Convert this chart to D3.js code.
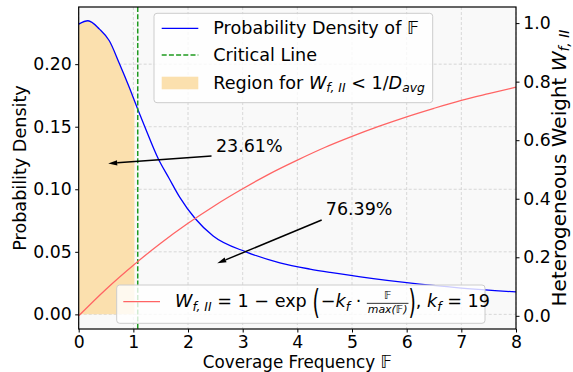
<!DOCTYPE html>
<html><head><meta charset="utf-8">
<script src="https://cdn.jsdelivr.net/npm/d3@7"></script>
<style>
body{margin:0;background:#fff}
text{font-family:"DejaVu Sans";white-space:pre}
</style>
</head><body>
<svg id="c" width="573" height="372"></svg>
<script>
// ---------- data ----------
const xTicks = [0, 1, 2, 3, 4, 5, 6, 7, 8];
const leftTicks = [0, 0.05, 0.10, 0.15, 0.20];
const leftTickLabels = ["0.00", "0.05", "0.10", "0.15", "0.20"];
const rightTicks = [0, 0.2, 0.4, 0.6, 0.8, 1.0];
const rightTickLabels = ["0.0", "0.2", "0.4", "0.6", "0.8", "1.0"];

const densityX = [0, 0.17, 0.38, 0.56, 0.74, 0.93, 1.08, 1.2, 1.46, 1.65, 1.85, 2.13, 2.46, 3.07, 3.68, 4.23, 4.6, 5.39, 6.0, 7.0, 8.0];
const densityY = [0.232, 0.2347, 0.228, 0.2187, 0.201, 0.181, 0.164, 0.151, 0.124, 0.109, 0.0935, 0.0766, 0.0626, 0.0498, 0.0412, 0.0362, 0.0335, 0.0286, 0.0253, 0.021, 0.0179];

const weightX = [0, 0.5, 1, 1.5, 2, 2.5, 3, 3.5, 4, 4.5, 5, 5.5, 6, 6.5, 7, 7.5, 8];
const weightY = [0, 0.091, 0.173, 0.248, 0.316, 0.378, 0.434, 0.486, 0.532, 0.575, 0.613, 0.648, 0.680, 0.709, 0.736, 0.759, 0.781];

const criticalX = 1.08;
const regionEnd = 1.02;

const annotLabels = ["23.61%", "76.39%"];
const annotHeadX = [0.54, 2.535];
const annotHeadY = [0.1206, 0.0408];
const annotTailX = [2.43, 4.445];
const annotTailY = [0.1266, 0.0754];
const annotTextX = [2.51, 4.52];
const annotTextY = [0.1298, 0.0792];

// ---------- layout ----------
const L = 78.7, R = 516, T = 7, B = 329;
const FS = 17.3;
const LFS = 17.6;
const svg = d3.select("#c");
const x = d3.scaleLinear([0, 8], [L, R]);
const yL = d3.scaleLinear([-0.0117, 0.2457], [B, T]);
const yR = d3.scaleLinear([-0.045, 1.055], [B, T]);

// background
svg.append("rect").attr("x", L).attr("y", T).attr("width", R - L).attr("height", B - T).attr("fill", "#f9f9f9");

// grid
const grid = svg.append("g").attr("stroke", "#cfcfcf").attr("stroke-width", 0.8).attr("stroke-dasharray", "3,2");
grid.selectAll(".gx").data(xTicks).join("line")
  .attr("x1", d => x(d)).attr("x2", d => x(d)).attr("y1", T).attr("y2", B);
grid.selectAll(".gy").data(leftTicks).join("line")
  .attr("x1", L).attr("x2", R).attr("y1", d => yL(d)).attr("y2", d => yL(d));

const density = densityX.map((d, i) => [d, densityY[i]]);
const weight = weightX.map((d, i) => [d, weightY[i]]);

// fill region
svg.append("clipPath").attr("id", "regclip").append("rect")
  .attr("x", x(0)).attr("y", T).attr("width", x(regionEnd) - x(0)).attr("height", B - T);
svg.append("path").datum(density)
  .attr("clip-path", "url(#regclip)")
  .attr("fill", "#fbe0ae")
  .attr("d", d3.area().x(d => x(d[0])).y0(yL(0)).y1(d => yL(d[1])).curve(d3.curveMonotoneX));

// density line
svg.append("path").datum(density)
  .attr("fill", "none").attr("stroke", "#0000ff").attr("stroke-width", 1.3)
  .attr("d", d3.line().x(d => x(d[0])).y(d => yL(d[1])).curve(d3.curveMonotoneX));

// critical line
svg.append("line").attr("x1", x(criticalX)).attr("x2", x(criticalX)).attr("y1", T).attr("y2", B)
  .attr("stroke", "#1f9a1f").attr("stroke-width", 1.5).attr("stroke-dasharray", "5,2.2");

// ---------- math text helper ----------
function drawMath(parent, pieces, size) {
  const g = parent.append("g");
  let cx = 0;
  pieces.forEach(p => {
    if (p.frac) {
      const fs = size * p.sc;
      const n = g.append("text").attr("font-size", fs).text(p.frac[0]).attr("font-style", "italic");
      const d = g.append("text").attr("font-size", fs).text(p.frac[1]).attr("font-style", "italic");
      const wn = n.node().getComputedTextLength(), wd = d.node().getComputedTextLength();
      const w = Math.max(wn, wd) + 2;
      n.attr("x", cx + (w - wn) / 2).attr("y", -0.42 * size);
      d.attr("x", cx + (w - wd) / 2).attr("y", 0.38 * size);
      g.append("line").attr("x1", cx).attr("x2", cx + w).attr("y1", -0.19 * size).attr("y2", -0.19 * size)
        .attr("stroke", "#000").attr("stroke-width", 0.8);
      cx += w;
      return;
    }
    const fs = size * (p.sc || 1);
    const t = g.append("text").attr("font-size", fs).text(p.t);
    if (p.it) t.attr("font-style", "italic");
    const w = t.node().getComputedTextLength();
    const sx = p.sx || 1;
    t.attr("transform", `translate(${cx},${(p.dy || 0) * size}) scale(${sx},1)`);
    cx += w * sx + (p.kern || 0);
  });
  return {g, w: cx};
}

// red line (twin axis)
svg.append("path").datum(weight)
  .attr("fill", "none").attr("stroke", "#ff6464").attr("stroke-width", 1.3)
  .attr("d", d3.line().x(d => x(d[0])).y(d => yR(d[1])).curve(d3.curveMonotoneX));

// annotations
annotLabels.forEach((lab, i) => {
  const x1 = x(annotTailX[i]), y1 = yL(annotTailY[i]);
  const x2 = x(annotHeadX[i]), y2 = yL(annotHeadY[i]);
  const ang = Math.atan2(y2 - y1, x2 - x1);
  const hl = 9, hw = 2.6;
  const bx = x2 - hl * Math.cos(ang), by = y2 - hl * Math.sin(ang);
  svg.append("line").attr("x1", x1).attr("y1", y1).attr("x2", bx).attr("y2", by)
    .attr("stroke", "#000").attr("stroke-width", 1.5);
  svg.append("path").attr("fill", "#000")
    .attr("d", `M${x2},${y2}L${bx - hw * Math.sin(ang)},${by + hw * Math.cos(ang)}L${bx + hw * Math.sin(ang)},${by - hw * Math.cos(ang)}Z`);
  svg.append("text").attr("x", x(annotTextX[i])).attr("y", yL(annotTextY[i]))
    .attr("font-size", 17.5).text(lab);
});

// ---------- legend 1 ----------
const lg1 = svg.append("g");
lg1.append("rect").attr("x", 154).attr("y", 13.3).attr("width", 278.7).attr("height", 89.4).attr("rx", 3)
  .attr("fill", "#fff").attr("fill-opacity", 0.8).attr("stroke", "#cccccc");
lg1.append("line").attr("x1", 161.7).attr("x2", 198.3).attr("y1", 28.3).attr("y2", 28.3)
  .attr("stroke", "#0000ff").attr("stroke-width", 1.3);
lg1.append("line").attr("x1", 161.7).attr("x2", 198.3).attr("y1", 55).attr("y2", 55)
  .attr("stroke", "#1f9a1f").attr("stroke-width", 1.5).attr("stroke-dasharray", "5,2.2");
lg1.append("rect").attr("x", 161.7).attr("y", 76.7).attr("width", 36.6).attr("height", 12.6).attr("fill", "#fbe0ae");
const e1 = drawMath(lg1, [{t: "Probability Density of "}, {t: "𝔽"}], LFS);
e1.g.attr("transform", "translate(213.3,34.3)");
const e2 = drawMath(lg1, [{t: "Critical Line"}], LFS);
e2.g.attr("transform", "translate(213.3,61)");
const e3 = drawMath(lg1, [{t: "Region for "}, {t: "W", it: 1}, {t: "f, II", it: 1, sc: 0.7, dy: 0.22}, {t: " < 1/"}, {t: "D", it: 1}, {t: "avg", it: 1, sc: 0.7, dy: 0.22}], LFS);
e3.g.attr("transform", "translate(213.3,88.5)");

// ---------- axes ----------
const bottom = svg.append("g").attr("transform", `translate(0,${B})`)
  .call(d3.axisBottom(x).tickValues(xTicks).tickFormat(d3.format("d")).tickSize(3.5).tickPadding(3.5));
const left = svg.append("g").attr("transform", `translate(${L},0)`)
  .call(d3.axisLeft(yL).tickValues(leftTicks).tickFormat((d, i) => leftTickLabels[i]).tickSize(3.5).tickPadding(3.5));
const right = svg.append("g").attr("transform", `translate(${R},0)`)
  .call(d3.axisRight(yR).tickValues(rightTicks).tickFormat((d, i) => rightTickLabels[i]).tickSize(3.5).tickPadding(3.8));
[bottom, left, right].forEach(a => {
  a.select(".domain").remove();
  a.selectAll("text").attr("font-size", FS).attr("font-family", "DejaVu Sans").attr("fill", "#000");
  a.selectAll("line").attr("stroke", "#000").attr("stroke-width", 1);
});

// spines
svg.append("rect").attr("x", L).attr("y", T).attr("width", R - L).attr("height", B - T)
  .attr("fill", "none").attr("stroke", "#000").attr("stroke-width", 1.2);

// ---------- legend 2 (twin axis, on top) ----------
const lg2 = svg.append("g");
lg2.append("rect").attr("x", 116.7).attr("y", 285).attr("width", 368.3).attr("height", 38.3).attr("rx", 3)
  .attr("fill", "#fff").attr("fill-opacity", 0.8).attr("stroke", "#cccccc");
lg2.append("line").attr("x1", 123.3).attr("x2", 160).attr("y1", 301.7).attr("y2", 301.7)
  .attr("stroke", "#ff6464").attr("stroke-width", 1.3);
const e4 = drawMath(lg2, [
  {t: "W", it: 1}, {t: "f, II", it: 1, sc: 0.7, dy: 0.22}, {t: " = 1 − exp "},
  {t: "(", sc: 1.95, dy: 0.4, sx: 0.55, kern: 1},
  {t: "−"}, {t: "k", it: 1}, {t: "f", it: 1, sc: 0.7, dy: 0.22}, {t: " · "},
  {frac: ["𝔽", "max(𝔽)"], sc: 0.62},
  {t: ")", sc: 1.95, dy: 0.4, sx: 0.55},
  {t: ", "}, {t: "k", it: 1}, {t: "f", it: 1, sc: 0.7, dy: 0.22}, {t: " = 19"}
], LFS);
e4.g.attr("transform", "translate(175,306.7)");

// ---------- axis labels ----------
svg.append("text").attr("transform", `translate(25.5,${(T + B) / 2}) rotate(-90)`)
  .attr("text-anchor", "middle").attr("font-size", LFS).text("Probability Density");
const rl = svg.append("g");
const e5 = drawMath(rl, [{t: "Heterogeneous Weight "}, {t: "W", it: 1}, {t: "f, II", it: 1, sc: 0.7, dy: 0.16}], 20);
rl.attr("transform", `translate(566,${(T + B) / 2 + e5.w / 2}) rotate(-90)`);
const e6 = drawMath(svg, [{t: "Coverage Frequency "}, {t: "𝔽"}], 16.8);
e6.g.attr("transform", `translate(${(L + R) / 2 - e6.w / 2},367.9)`);
</script>
</body></html>
